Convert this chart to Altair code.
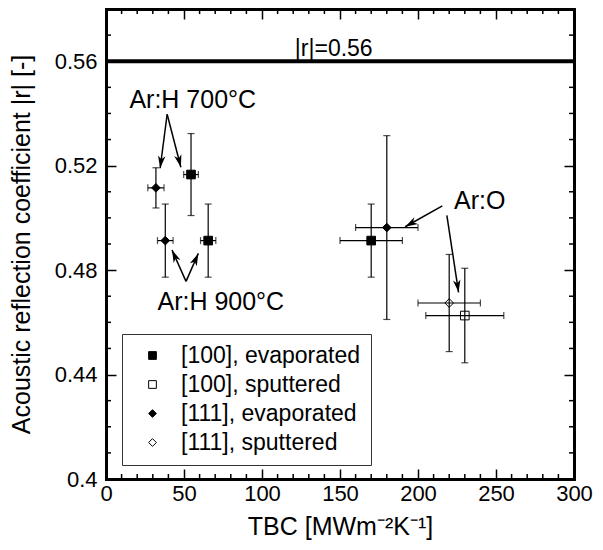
import math
import altair as alt
import pandas as pd

# ---------------- data ----------------
series = ["[100], evaporated", "[100], sputtered", "[111], evaporated", "[111], sputtered"]
series_shapes = ["square", "square", "diamond", "diamond"]
series_fills = ["black", "transparent", "black", "transparent"]

pt_series = ["[111], evaporated", "[100], evaporated", "[111], evaporated", "[100], evaporated",
             "[111], evaporated", "[100], evaporated", "[111], sputtered", "[100], sputtered"]
pt_x = [32.0, 54.5, 38.0, 65.5, 180.0, 170.0, 220.0, 230.0]
pt_y = [0.5115, 0.5166, 0.4913, 0.4913, 0.4963, 0.4913, 0.4674, 0.4626]
pt_xerr = [5.2, 4.7, 5.0, 4.9, 20.0, 20.0, 20.0, 25.0]
pt_yerr = [0.0077, 0.0157, 0.014, 0.014, 0.0352, 0.014, 0.0186, 0.0181]

x_major = [0, 50, 100, 150, 200, 250, 300]
x_minor = [10, 20, 30, 40, 60, 70, 80, 90, 110, 120, 130, 140, 160, 170, 180, 190,
           210, 220, 230, 240, 260, 270, 280, 290]
y_major = [0.4, 0.44, 0.48, 0.52, 0.56]
y_minor = [0.41, 0.42, 0.43, 0.45, 0.46, 0.47, 0.49, 0.50, 0.51, 0.53, 0.54, 0.55, 0.57]

ref_value = [0.56]
ref_label = ["|r|=0.56"]
ref_label_x = [146.0]
ref_label_y = [0.562]

notes = ["Ar:H 700°C", "Ar:H 900°C", "Ar:O"]
note_x = [55.6, 73.6, 239.6]
note_y = [0.5422, 0.4649, 0.5033]

arrow_x0 = [39.2, 39.2, 51.3, 51.3, 215.6, 218.5]
arrow_y0 = [0.5397, 0.5397, 0.4757, 0.4757, 0.5046, 0.5010]
arrow_x1 = [34.7, 48.0, 42.3, 59.2, 191.8, 226.0]
arrow_y1 = [0.5190, 0.5194, 0.4877, 0.4864, 0.4966, 0.4715]

X_DOMAIN = [0, 300]
Y_DOMAIN = [0.4, 0.58]
W, H = 468, 470
FONT = "Liberation Sans"

# ---------------- tables ----------------
pts = pd.DataFrame({"series": pt_series, "x": pt_x, "y": pt_y, "xerr": pt_xerr, "yerr": pt_yerr})
pts["xlo"] = pts.x - pts.xerr
pts["xhi"] = pts.x + pts.xerr
pts["ylo"] = pts.y - pts.yerr
pts["yhi"] = pts.y + pts.yerr

arr = pd.DataFrame({"x0": arrow_x0, "y0": arrow_y0, "x1": arrow_x1, "y1": arrow_y1})
px_x = W / (X_DOMAIN[1] - X_DOMAIN[0])
px_y = H / (Y_DOMAIN[1] - Y_DOMAIN[0])


def head_angle(r):
    dx = (r.x1 - r.x0) * px_x
    dy = -(r.y1 - r.y0) * px_y
    return math.degrees(math.atan2(dx, -dy)) % 360


arr["ang"] = arr.apply(head_angle, axis=1)

notes_df = pd.DataFrame({"t": notes, "x": note_x, "y": note_y})
ref_df = pd.DataFrame({"y": ref_value})
ref_txt = pd.DataFrame({"t": ref_label, "x": ref_label_x, "y": ref_label_y})

xs = alt.Scale(domain=X_DOMAIN, nice=False, zero=False)
ys = alt.Scale(domain=Y_DOMAIN, nice=False, zero=False)

TICK = {"expr": "-10"}
common_axis = dict(
    grid=False, domainColor="black", domainWidth=3, domainCap="square",
    tickColor="black", tickWidth=1.5, tickSize=TICK, labelFlush=False,
    labelFont=FONT, labelFontSize=22, labelColor="black",
    titleFont=FONT, titleFontSize=25, titleColor="black", titleFontWeight="normal",
)

x_bottom = alt.Axis(orient="bottom", values=x_major, format="d", labelPadding=14,
                    title="TBC [MWm⁻²K⁻¹]", titlePadding=10, **common_axis)
y_left = alt.Axis(orient="left", values=y_major, format="~g", labelPadding=19,
                  title="Acoustic reflection coefficient |r| [-]", titlePadding=20, **common_axis)
x_top = alt.Axis(orient="top", values=x_major, labels=False, title=None, **common_axis)
y_right = alt.Axis(orient="right", values=y_major, labels=False, title=None, **common_axis)

base = alt.Chart(pts)

hbar = base.mark_rule(color="black", strokeWidth=1.2).encode(
    x=alt.X("xlo:Q", scale=xs, axis=None), x2="xhi:Q", y=alt.Y("y:Q", scale=ys, axis=None))
vbar = base.mark_rule(color="black", strokeWidth=1.2).encode(
    x=alt.X("x:Q", scale=xs, axis=None), y=alt.Y("ylo:Q", scale=ys, axis=None), y2="yhi:Q")
cap_lo = base.mark_tick(orient="horizontal", size=7, thickness=1.2, color="black").encode(
    x=alt.X("x:Q", scale=xs, axis=None), y=alt.Y("ylo:Q", scale=ys, axis=None))
cap_hi = base.mark_tick(orient="horizontal", size=7, thickness=1.2, color="black").encode(
    x=alt.X("x:Q", scale=xs, axis=None), y=alt.Y("yhi:Q", scale=ys, axis=None))
cap_l = base.mark_tick(orient="vertical", size=7, thickness=1.2, color="black").encode(
    x=alt.X("xlo:Q", scale=xs, axis=None), y=alt.Y("y:Q", scale=ys, axis=None))
cap_r = base.mark_tick(orient="vertical", size=7, thickness=1.2, color="black").encode(
    x=alt.X("xhi:Q", scale=xs, axis=None), y=alt.Y("y:Q", scale=ys, axis=None))

legend = alt.Legend(title=None, orient="none", legendX=16, legendY=325, labelLimit=400,
                    symbolStrokeColor="black", symbolStrokeWidth=1)
points = base.mark_point(filled=True, stroke="black", strokeWidth=1, size=75, opacity=1).encode(
    x=alt.X("x:Q", scale=xs, axis=x_bottom),
    y=alt.Y("y:Q", scale=ys, axis=y_left),
    shape=alt.Shape("series:N", scale=alt.Scale(domain=series, range=series_shapes), legend=legend),
    fill=alt.Fill("series:N", scale=alt.Scale(domain=series, range=series_fills), legend=legend),
    stroke=alt.Stroke("series:N", scale=alt.Scale(domain=series, range=["black"] * 4), legend=legend),
)

axes2 = base.mark_point(opacity=0).encode(
    x=alt.X("x:Q", scale=xs, axis=x_top), y=alt.Y("y:Q", scale=ys, axis=y_right))

ref_line = alt.Chart(ref_df).mark_rule(color="black", strokeWidth=4).encode(
    y=alt.Y("y:Q", scale=ys, axis=None))
ref_text = alt.Chart(ref_txt).mark_text(font=FONT, fontSize=23, baseline="alphabetic",
                                        align="center", color="black").encode(
    x=alt.X("x:Q", scale=xs, axis=None), y=alt.Y("y:Q", scale=ys, axis=None), text="t:N")

note_text = alt.Chart(notes_df).mark_text(font=FONT, fontSize=25, baseline="alphabetic",
                                          align="center", color="black").encode(
    x=alt.X("x:Q", scale=xs, axis=None), y=alt.Y("y:Q", scale=ys, axis=None), text="t:N")

arrow_lines = alt.Chart(arr).mark_rule(color="black", strokeWidth=1.5).encode(
    x=alt.X("x0:Q", scale=xs, axis=None), y=alt.Y("y0:Q", scale=ys, axis=None),
    x2="x1:Q", y2="y1:Q")
arrow_heads = alt.Chart(arr).mark_point(
    shape="M0,0L0.75,2.5L0,1.8L-0.75,2.5Z", filled=True, color="black", size=100, opacity=1
).encode(
    x=alt.X("x1:Q", scale=xs, axis=None), y=alt.Y("y1:Q", scale=ys, axis=None),
    angle=alt.Angle("ang:Q", scale=None))

xm = pd.DataFrame({"v": x_minor})
ym = pd.DataFrame({"v": y_minor})
mt_b = alt.Chart(xm).mark_rule(color="black", strokeWidth=1.5).encode(
    x=alt.X("v:Q", scale=xs, axis=None), y=alt.value(H), y2=alt.value(H - 5))
mt_t = alt.Chart(xm).mark_rule(color="black", strokeWidth=1.5).encode(
    x=alt.X("v:Q", scale=xs, axis=None), y=alt.value(0), y2=alt.value(5))
mt_l = alt.Chart(ym).mark_rule(color="black", strokeWidth=1.5).encode(
    y=alt.Y("v:Q", scale=ys, axis=None), x=alt.value(0), x2=alt.value(5))
mt_r = alt.Chart(ym).mark_rule(color="black", strokeWidth=1.5).encode(
    y=alt.Y("v:Q", scale=ys, axis=None), x=alt.value(W), x2=alt.value(W - 5))

chart = alt.layer(
    mt_b, mt_t, mt_l, mt_r,
    hbar, vbar, cap_lo, cap_hi, cap_l, cap_r,
    points, axes2,
    ref_line, ref_text, note_text, arrow_lines, arrow_heads,
).resolve_axis(
    x="independent", y="independent"
).properties(
    width=W, height=H,
    autosize=alt.AutoSizeParams(type="none"),
    padding={"left": 98, "top": 1, "right": 21, "bottom": 62},
).configure_view(
    stroke=None
).configure_legend(
    padding=10, strokeColor="#333333", fillColor="white",
    labelFont=FONT, labelFontSize=23, labelColor="black",
    symbolSize=60, symbolStrokeColor="black", symbolStrokeWidth=1,
    symbolOffset=9, labelOffset=17, rowPadding=5,
)

chart.save("out.html", embed_options={"renderer": "svg", "actions": False})
